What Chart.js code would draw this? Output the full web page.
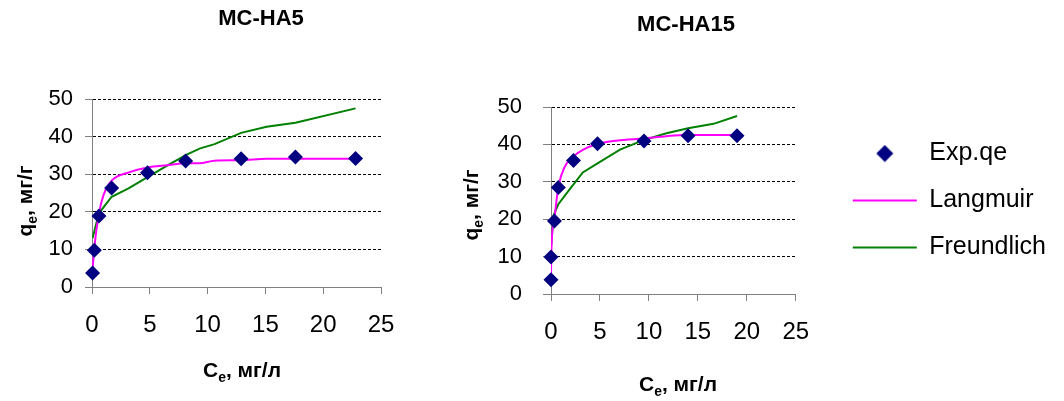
<!DOCTYPE html>
<html>
<head>
<meta charset="utf-8">
<script src="https://cdn.jsdelivr.net/npm/chart.js@4.4.0/dist/chart.umd.min.js"></script>
<style>
    html, body { margin: 0; padding: 0; background: #fff; }
    body { width: 1064px; height: 401px; position: relative; overflow: hidden; }
    #chartHA5 { position: absolute; left: 0; top: 0; }
    #chartHA15 { position: absolute; left: 440px; top: 0; }
</style>
</head>
<body>
<canvas id="chartHA5" width="440" height="401"></canvas>
<canvas id="chartHA15" width="624" height="401"></canvas>
<script>
// Axis ticks
const xTicks = [0, 5, 10, 15, 20, 25];
const yTicks = [0, 10, 20, 30, 40, 50];

// MC-HA5 (left)
const expX5 = [0.05, 0.2, 0.6, 1.7, 4.8, 8.1, 12.9, 17.6, 22.8];
const expY5 = [3.7, 9.8, 18.9, 26.3, 30.4, 33.5, 34.1, 34.6, 34.2];
const langX5 = [0.05, 0.2, 0.6, 1.0, 1.7, 3.2, 4.8, 6.5, 8.1, 9.3, 10.6, 12.9, 15.1, 17.6, 22.8];
const langY5 = [4.8, 10.5, 19.5, 24.5, 28.3, 30.5, 31.8, 32.4, 32.9, 32.9, 33.6, 33.7, 34.1, 34.1, 34.1];
const freX5 = [0.05, 0.6, 1.7, 3.2, 4.8, 6.5, 8.1, 9.3, 10.6, 12.9, 15.1, 17.6, 22.8];
const freY5 = [13.0, 19.6, 24.0, 26.3, 29.2, 32.3, 35.1, 36.8, 38.0, 41.0, 42.6, 43.7, 47.5];

// MC-HA15 (right)
const expX15 = [0.0, 0.0, 0.35, 0.75, 2.3, 4.75, 9.5, 14.0, 19.0];
const expY15 = [3.8, 9.9, 19.5, 28.5, 35.7, 40.2, 40.9, 42.3, 42.3];
const langX15 = [0, 0.02, 0.34, 0.75, 1.4, 2.3, 3.3, 4.75, 6.7, 9.5, 11.8, 14.0, 19.0];
const langY15 = [4.5, 10.0, 20.3, 28.7, 34.0, 36.8, 38.6, 40.1, 41.0, 41.6, 42.2, 42.5, 42.5];
const freX15 = [0.02, 0.25, 0.75, 1.9, 3.25, 5.0, 7.05, 9.5, 11.8, 14.0, 16.6, 19.0];
const freY15 = [13.0, 21.0, 24.0, 28.0, 32.5, 35.3, 38.6, 41.2, 43.0, 44.3, 45.5, 47.6];

const FONT = '"Liberation Sans", Arial, sans-serif';
Chart.defaults.font.family = FONT;
Chart.defaults.color = '#000';

function toPoints(xs, ys) {
    return xs.map((x, i) => ({ x: x, y: ys[i] }));
}

// text with a subscript part: [main, sub, rest]
function drawSubText(ctx, parts, x, y, angle) {
    const mainFont = 'bold 21px ' + FONT;
    const subFont = 'bold 14px ' + FONT;
    ctx.save();
    ctx.translate(x, y);
    ctx.rotate(angle);
    ctx.textAlign = 'left';
    ctx.textBaseline = 'alphabetic';
    ctx.font = mainFont;
    const w1 = ctx.measureText(parts[0]).width;
    const w3 = ctx.measureText(parts[2]).width;
    ctx.font = subFont;
    const w2 = ctx.measureText(parts[1]).width;
    let cx = -(w1 + w2 + w3) / 2;
    ctx.font = mainFont;
    ctx.fillText(parts[0], cx, 7);
    cx += w1;
    ctx.font = subFont;
    ctx.fillText(parts[1], cx, 12);
    cx += w2;
    ctx.font = mainFont;
    ctx.fillText(parts[2], cx, 7);
    ctx.restore();
}

const axisTextPlugin = {
    id: 'axisText',
    afterDraw(chart, args, opts) {
        const ctx = chart.ctx;
        ctx.save();
        ctx.fillStyle = '#000';
        ctx.font = 'bold 22px ' + FONT;
        ctx.textAlign = 'center';
        ctx.textBaseline = 'middle';
        ctx.fillText(opts.title, opts.titleX, opts.titleY);
        drawSubText(ctx, ['C', 'e', ', мг/л'], opts.xTitleX, opts.xTitleY, 0);
        drawSubText(ctx, ['q', 'e', ', мг/г'], opts.yTitleX, opts.yTitleY, -Math.PI / 2);
        ctx.restore();
    }
};

// diamond used as legend marker
const diamondIcon = document.createElement('canvas');
diamondIcon.width = 18;
diamondIcon.height = 18;
const dctx = diamondIcon.getContext('2d');
dctx.fillStyle = '#000080';
dctx.beginPath();
dctx.moveTo(9, 0.5);
dctx.lineTo(17.5, 9);
dctx.lineTo(9, 17.5);
dctx.lineTo(0.5, 9);
dctx.closePath();
dctx.fill();

function xScale(tickPadding, height) {
    return {
        type: 'linear',
        min: 0,
        max: 25,
        afterBuildTicks: s => { s.ticks = xTicks.map(v => ({ value: v })); },
        afterFit: s => { s.height = height; },
        grid: { drawOnChartArea: false, tickLength: 7, tickColor: '#808080' },
        border: { color: '#808080', width: 1 },
        ticks: { padding: tickPadding, color: '#000', font: { size: 24 }, maxRotation: 0, autoSkip: false }
    };
}

function yScale(tickLength, tickPadding, width) {
    return {
        type: 'linear',
        min: 0,
        max: 50,
        afterBuildTicks: s => { s.ticks = yTicks.map(v => ({ value: v })); },
        afterFit: s => { s.width = width; },
        grid: {
            color: c => (c.tick && c.tick.value === 0) ? 'rgba(0,0,0,0)' : '#000',
            lineWidth: 1,
            tickLength: tickLength,
            tickColor: '#808080'
        },
        border: { color: '#808080', width: 1, dash: [3, 2] },
        ticks: { padding: tickPadding, color: '#000', font: { size: 22 } }
    };
}

function makeDatasets(ex, ey, lx, ly, fx, fy) {
    return [
        {
            label: 'Exp.qe',
            data: toPoints(ex, ey),
            showLine: false,
            pointStyle: 'rectRot',
            pointRadius: 7.5,
            pointHoverRadius: 7.5,
            pointBackgroundColor: '#000080',
            pointBorderColor: '#000080',
            pointBorderWidth: 0,
            borderColor: '#000080',
            backgroundColor: '#000080',
            clip: false,
            order: 0
        },
        {
            label: 'Langmuir',
            data: toPoints(lx, ly),
            showLine: true,
            borderColor: '#FF00FF',
            backgroundColor: '#FF00FF',
            borderWidth: 2,
            pointRadius: 0,
            pointStyle: 'line',
            cubicInterpolationMode: 'monotone',
            order: 1
        },
        {
            label: 'Freundlich',
            data: toPoints(fx, fy),
            showLine: true,
            borderColor: '#008000',
            backgroundColor: '#008000',
            borderWidth: 2,
            pointRadius: 0,
            pointStyle: 'line',
            tension: 0,
            order: 2
        }
    ];
}

function createHA5Chart() {
    const ctx = document.getElementById('chartHA5');
    new Chart(ctx, {
        type: 'scatter',
        data: { datasets: makeDatasets(expX5, expY5, langX5, langY5, freX5, freY5) },
        options: {
            responsive: false,
            animation: false,
            devicePixelRatio: 1,
            layout: { padding: { top: 99, right: 59, left: 0, bottom: 0 } },
            scales: {
                x: xScale(17, 114),
                y: yScale(7, 12, 92)
            },
            plugins: {
                legend: { display: false },
                tooltip: { enabled: false },
                axisText: {
                    title: 'MC-HA5', titleX: 261, titleY: 19,
                    xTitleX: 242, xTitleY: 370,
                    yTitleX: 25, yTitleY: 201
                }
            }
        },
        plugins: [axisTextPlugin]
    });
}

function createHA15Chart() {
    const ctx = document.getElementById('chartHA15');
    new Chart(ctx, {
        type: 'scatter',
        data: { datasets: makeDatasets(expX15, expY15, langX15, langY15, freX15, freY15) },
        options: {
            responsive: false,
            animation: false,
            devicePixelRatio: 1,
            layout: { padding: { top: 107, right: 8, left: 0, bottom: 0 } },
            scales: {
                x: xScale(17, 107),
                y: yScale(8, 21, 111),
                pad: {
                    type: 'linear',
                    position: 'right',
                    grid: { display: false },
                    border: { display: false },
                    ticks: { display: false },
                    afterFit: s => { s.width = 35; }
                }
            },
            plugins: {
                legend: {
                    position: 'right',
                    fullSize: false,
                    maxWidth: 320,
                    align: 'center',
                    labels: {
                        usePointStyle: true,
                        pointStyleWidth: 64,
                        padding: 22,
                        color: '#000',
                        font: { size: 25 },
                        generateLabels: function(chart) {
                            const items = Chart.defaults.plugins.legend.labels.generateLabels(chart);
                            items.forEach(item => {
                                if (item.text === 'Exp.qe') item.pointStyle = diamondIcon;
                            });
                            return items;
                        }
                    }
                },
                tooltip: { enabled: false },
                axisText: {
                    title: 'MC-HA15', titleX: 246, titleY: 25,
                    xTitleX: 238, xTitleY: 384,
                    yTitleX: 31, yTitleY: 205
                }
            }
        },
        plugins: [axisTextPlugin]
    });
}

createHA5Chart();
createHA15Chart();
</script>
</body>
</html>
